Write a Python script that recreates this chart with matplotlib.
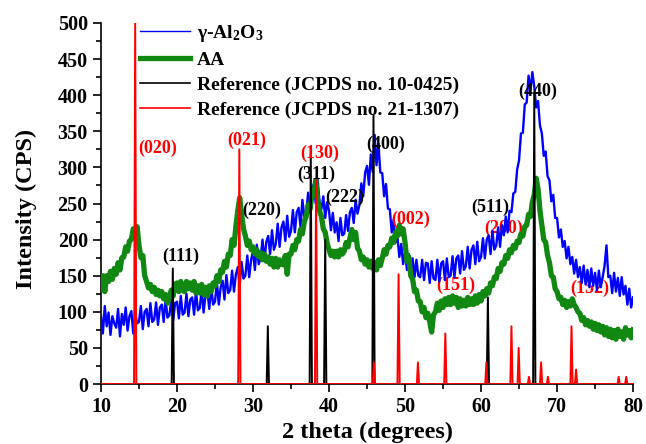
import numpy as np
import matplotlib
matplotlib.use("Agg")
import matplotlib.pyplot as plt

plt.rcParams['font.family'] = ['Liberation Serif', 'DejaVu Serif']
plt.rcParams['font.weight'] = 'bold'
plt.rcParams['mathtext.fontset'] = 'custom'
plt.rcParams['mathtext.rm'] = 'Liberation Serif:bold'
plt.rcParams['mathtext.default'] = 'rm'

# 2 theta grid, 0.25 deg steps from 10 to 80
two_theta = np.arange(10, 80.001, 0.25)

# gamma-Al2O3 (blue), 4 values per degree
al2o3 = [
    95, 70, 108, 80,   99, 68, 94, 84,    78, 104, 66, 97,   82, 106, 74, 94,
    101, 70, 98, 84,   86, 108, 76, 100,  104, 80, 112, 86,  89, 113, 82, 106,
    110, 86, 118, 92,  95, 117, 88, 112,  114, 91, 122, 96,  99, 125, 94, 117,
    120, 96, 129, 102, 105, 132, 99, 123, 128, 104, 136, 110, 114, 141, 110, 134,
    143, 117, 151, 126, 130, 157, 128, 152, 162, 137, 169, 146, 150, 178, 148, 172,
    184, 158, 193, 166, 174, 200, 170, 197, 205, 180, 213, 186, 194, 222, 190, 217,
    225, 198, 233, 204, 212, 241, 210, 238, 244, 218, 255, 232, 236, 265, 238, 270,
    277, 250, 283, 253, 242, 260, 230, 252, 240, 213, 237, 210, 224, 198, 230, 206,
    208, 234, 212, 238, 244, 223, 255, 236, 248, 278, 260, 293, 302, 276, 318, 294,
    345, 303, 333, 293, 292, 260, 277, 243, 242, 210, 228, 196, 204, 176, 194, 166,
    182, 158, 180, 153, 174, 148, 172, 150, 148, 172, 144, 168, 167, 140, 170, 146,
    144, 172, 142, 167, 170, 144, 174, 148, 150, 177, 148, 174, 178, 153, 184, 158,
    163, 190, 160, 186, 192, 166, 197, 170, 176, 202, 174, 200, 206, 180, 212, 186,
    192, 217, 190, 220, 206, 232, 210, 240, 238, 264, 266, 297, 310, 347, 348, 387,
    390, 427, 406, 432, 412, 383, 392, 358, 347, 316, 322, 288, 282, 253, 262, 230,
    230, 203, 214, 190, 198, 174, 190, 166, 176, 153, 172, 148, 162, 140, 164, 138,
    158, 134, 160, 136, 154, 130, 157, 134, 148, 164, 192, 148, 150, 126, 154, 128,
    147, 122, 148, 124, 136, 110, 132, 106, 120,
]

# AA (green)
aa = [
    132, 150, 128, 150, 142, 156, 145, 160, 152, 168, 158, 175, 176, 190, 184, 198,
    200, 215, 210, 218, 192, 175, 178, 150, 142, 133, 138, 128, 134, 124, 130, 122,
    128, 118, 124, 112, 120, 130, 122, 138, 140, 128, 142, 130, 128, 142, 132, 140,
    130, 142, 126, 136, 126, 138, 124, 134, 122, 136, 128, 140, 136, 150, 142, 158,
    155, 170, 162, 180, 178, 200, 192, 218, 240, 258, 235, 215, 205, 192, 198, 186,
    190, 180, 186, 176, 182, 172, 180, 170, 176, 166, 174, 162, 174, 162, 172, 166,
    165, 178, 152, 180, 180, 192, 186, 200, 198, 214, 208, 225, 232, 248, 242, 260,
    262, 282, 255, 240, 232, 215, 210, 195, 186, 178, 184, 176, 184, 176, 186, 180,
    184, 196, 190, 202, 214, 200, 210, 188, 184, 172, 176, 166, 172, 162, 170, 160,
    168, 158, 172, 164, 174, 186, 180, 192, 190, 202, 196, 210, 205, 220, 208, 215,
    196, 170, 176, 150, 145, 128, 130, 115, 114, 100, 106, 92, 98, 86, 72, 96,
    100, 112, 102, 115, 106, 118, 110, 120, 110, 122, 112, 120, 106, 118, 108, 116,
    108, 120, 110, 118, 110, 122, 112, 124, 115, 128, 122, 132, 126, 140, 136, 148,
    146, 160, 156, 168, 166, 178, 174, 186, 182, 192, 188, 198, 196, 208, 205, 218,
    220, 235, 232, 252, 262, 285, 270, 240, 220, 200, 196, 178, 168, 150, 148, 132,
    128, 118, 120, 110, 116, 106, 114, 108, 118, 110, 106, 100, 98, 88, 92, 82,
    88, 80, 86, 76, 84, 74, 82, 72, 80, 68, 78, 66, 76, 64, 74, 62,
    76, 66, 72, 62, 78, 68, 74, 64, 75,
]

# reference patterns (stick positions and heights)
ref1_pos = [19.45, 31.95, 37.6, 39.5, 45.85, 60.9, 67.0]
ref1_h = [160, 80, 318, 200, 372, 120, 402]
ref2_pos = [14.5, 28.2, 38.3, 45.9, 49.15, 51.7, 55.3, 60.7, 64.0, 64.95,
            66.3, 67.9, 68.8, 71.9, 72.5, 78.1, 79.1]
ref2_h = [505, 325, 282, 30, 152, 30, 70, 30, 80, 50,
          10, 30, 10, 80, 20, 10, 10]

# hkl labels: text, x, y, colour
hkl_text = ['(020)', '(021)', '(130)', '(311)', '(220)', '(222)', '(400)', '(111)',
            '(002)', '(511)', '(200)', '(151)', '(152)', '(440)']
hkl_x = [17.4, 29.2, 38.8, 38.3, 31.2, 42.1, 47.4, 20.5, 50.7, 61.2, 63.0, 56.7, 74.3, 67.5]
hkl_y = [327, 337, 320, 291, 240, 258, 332, 177, 228, 244, 215, 137, 132, 406]
hkl_col = ['red', 'red', 'red', 'k', 'k', 'k', 'k', 'k', 'red', 'k', 'red', 'red', 'red', 'k']


def sticks(pos, h, hw=0.15):
    xs = [10.0]
    ys = [0.0]
    for p, v in zip(pos, h):
        xs += [p - hw, p, p + hw]
        ys += [0, v, 0]
    xs.append(80.0)
    ys.append(0.0)
    return xs, ys


fig = plt.figure(figsize=(6.46, 4.44), dpi=100)
ax = fig.add_axes([0.1563, 0.1351, 0.8237, 0.8131])

ax.plot(two_theta, al2o3, color='#0000ff', lw=1.7, label=r'$\gamma$-Al$_2$O$_3$', zorder=3)
ax.plot(two_theta, aa, color='#118811', lw=3.8, label='AA', zorder=4)
x1, y1 = sticks(ref1_pos, ref1_h)
ax.plot(x1, y1, color='k', lw=1.4, label='Reference (JCPDS no. 10-0425)', zorder=5)
x2, y2 = sticks(ref2_pos, ref2_h)
ax.plot(x2, y2, color='#ff0000', lw=1.4, label='Reference (JCPDS no. 21-1307)', zorder=6)

for t, x, y, c in zip(hkl_text, hkl_x, hkl_y, hkl_col):
    z = 2 if t in ('(151)', '(200)', '(152)') else 7
    ax.text(x, y, t, color=c, fontsize=13, fontweight='bold',
            ha='center', va='center', zorder=z)

ax.set_xlim(10, 80)
ax.set_ylim(0, 500)
ax.set_xticks(np.arange(10, 81, 10))
ax.set_xticks(np.arange(15, 80, 10), minor=True)
ax.set_yticks(np.arange(0, 501, 50))
ax.set_yticks(np.arange(25, 500, 50), minor=True)
ax.tick_params(axis='both', which='major', direction='out', length=6, width=1.2, labelsize=14.5)
ax.tick_params(axis='both', which='minor', direction='out', length=3.5, width=1.2)
ax.spines['top'].set_visible(False)
ax.spines['right'].set_visible(False)
ax.spines['left'].set_linewidth(1.2)
ax.spines['bottom'].set_linewidth(1.2)

ax.set_xlabel('2 theta (degrees)', fontsize=17.5, fontweight='bold')
ax.xaxis.set_label_coords(0.5, -0.105)
ax.set_ylabel('Intensity (CPS)', fontsize=17.5, fontweight='bold')
ax.yaxis.set_label_coords(-0.12, 0.485)

leg = ax.legend(loc='upper left', bbox_to_anchor=(0.073, 1.0), frameon=False,
                fontsize=14, handlelength=2.6, handletextpad=0.35, labelspacing=0.38,
                borderpad=0, borderaxespad=0)
leg.get_lines()[0].set_linewidth(1.0)
leg.get_lines()[2].set_linewidth(1.2)
leg.get_lines()[3].set_linewidth(1.2)

fig.savefig('out.png', dpi=100)
